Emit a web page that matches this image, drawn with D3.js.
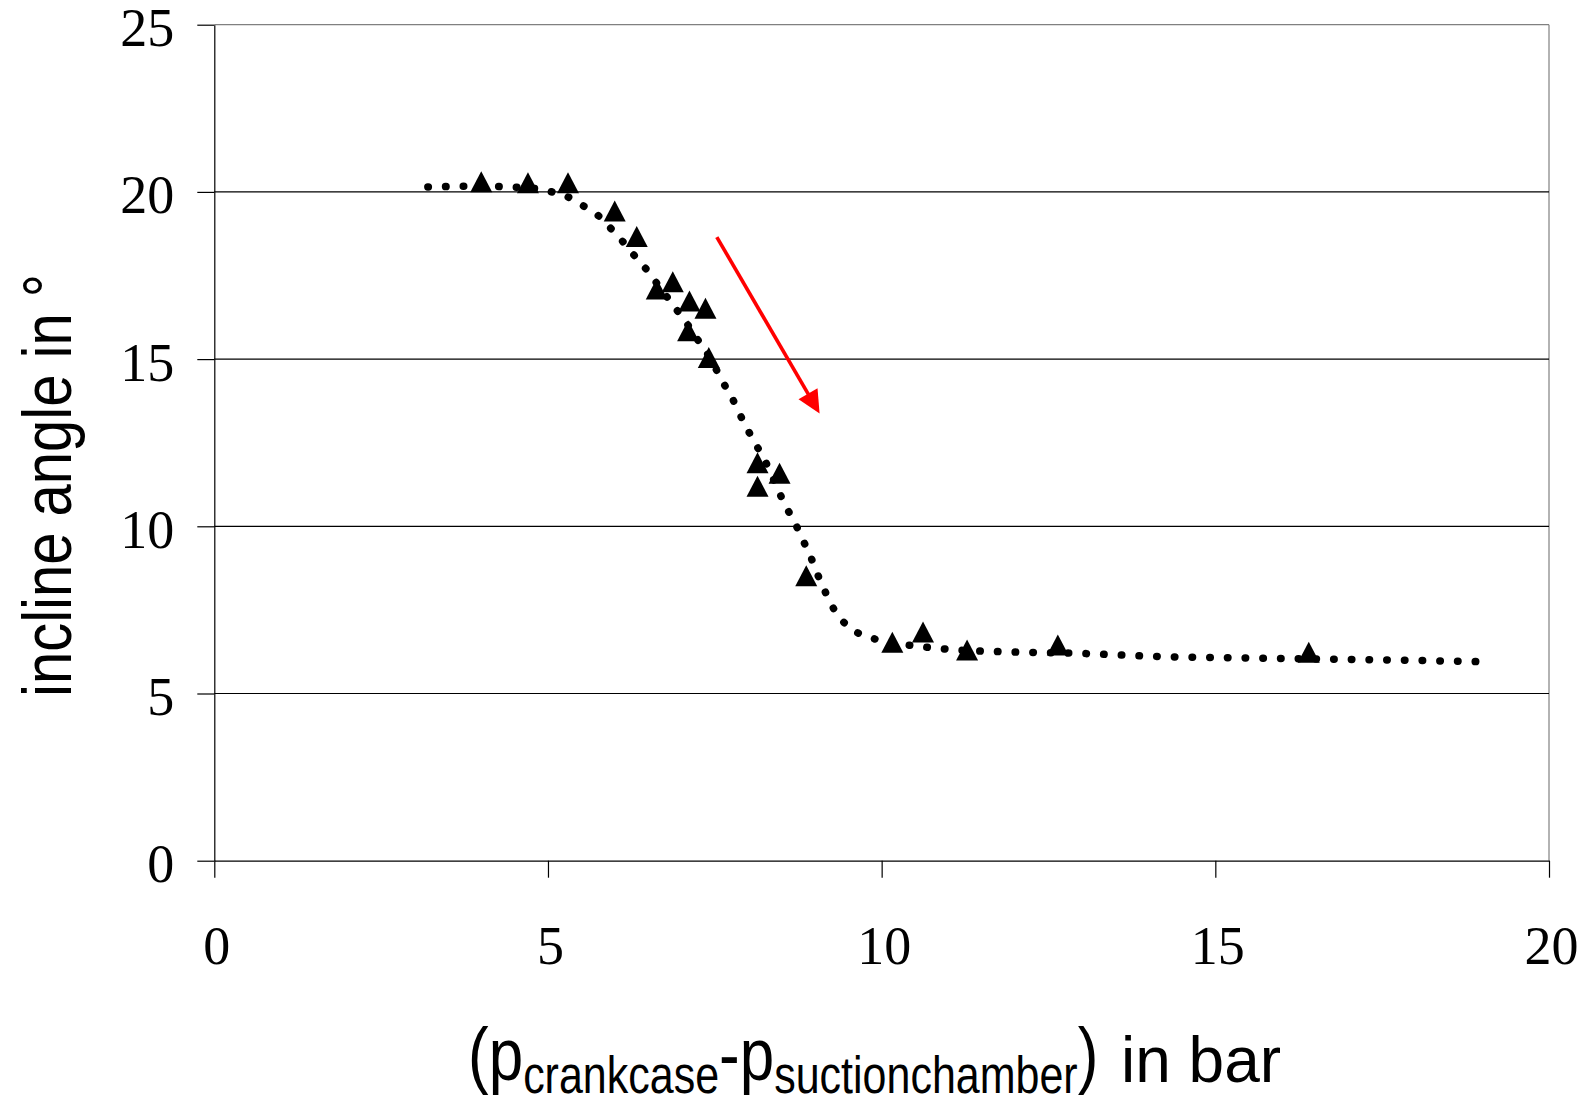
<!DOCTYPE html>
<html>
<head>
<meta charset="utf-8">
<script src="https://cdn.jsdelivr.net/npm/d3@7"></script>
<style>
  html, body { margin: 0; padding: 0; background: #fff; }
  svg { display: block; }
</style>
</head>
<body>
<script>
// ---- data ----
const xTicks = [0, 5, 10, 15, 20];
const yTicks = [0, 5, 10, 15, 20, 25];

// measured points (triangles)
const measX = [4.0, 4.7, 5.3, 6.0, 6.33, 6.63, 6.87, 7.12, 7.36, 7.1, 7.41, 8.14, 8.47, 8.14, 8.87, 10.16, 10.62, 11.28, 12.64, 16.4];
const measY = [20.3, 20.27, 20.27, 19.43, 18.67, 17.1, 17.31, 16.74, 16.52, 15.85, 15.05, 11.9, 11.59, 11.2, 8.52, 6.53, 6.84, 6.3, 6.45, 6.23];

// dotted trend curve
const trendX = [3.2, 3.5, 3.75, 4.0, 4.28, 4.53, 4.8, 5.06, 5.31, 5.53, 5.76, 5.94, 6.11, 6.28, 6.46, 6.63, 6.78, 6.93, 7.08, 7.23, 7.38, 7.51, 7.63, 7.76, 7.88, 8.0, 8.12, 8.26, 8.37, 8.47, 8.58, 8.71, 8.82, 8.93, 9.03, 9.13, 9.24, 9.38, 9.57, 9.82, 10.33, 10.85, 11.13, 11.63, 12.95, 14.28, 15.28, 16.6, 17.68, 19.0];
const trendY = [20.15, 20.16, 20.17, 20.17, 20.16, 20.14, 20.1, 20.0, 19.84, 19.58, 19.28, 18.91, 18.54, 18.13, 17.72, 17.27, 16.87, 16.47, 16.07, 15.62, 15.19, 14.73, 14.28, 13.83, 13.33, 12.86, 12.43, 11.93, 11.45, 10.99, 10.54, 10.06, 9.59, 9.12, 8.61, 8.15, 7.68, 7.25, 6.9, 6.68, 6.47, 6.35, 6.30, 6.26, 6.20, 6.10, 6.07, 6.03, 6.00, 5.95];

// red arrow (data coordinates)
const arrowFrom = [7.53, 18.65];
const arrowTo = [9.07, 13.37];

// ---- drawing ----
const W = 1582, H = 1102;
const svg = d3.select("body").append("svg").attr("width", W).attr("height", H);

const x = d3.scaleLinear().domain([0, 20]).range([214.3, 1549]);
const y = d3.scaleLinear().domain([0, 25]).range([860.7, 24.7]);

// frame (top & right, gray)
svg.append("line").attr("x1", x(0)).attr("x2", x(20)).attr("y1", y(25)).attr("y2", y(25))
  .attr("stroke", "#808080").attr("stroke-width", 1.2);
svg.append("line").attr("x1", x(20)).attr("x2", x(20)).attr("y1", y(25)).attr("y2", y(0))
  .attr("stroke", "#808080").attr("stroke-width", 1.2);

// gridlines
svg.append("g").selectAll("line").data(yTicks.filter(d => d > 0 && d < 25)).join("line")
  .attr("x1", x(0)).attr("x2", x(20)).attr("y1", d => y(d)).attr("y2", d => y(d))
  .attr("stroke", "#000").attr("stroke-width", 1.2);

// axes
const yAxis = svg.append("g").attr("transform", `translate(${x(0)},0)`)
  .call(d3.axisLeft(y).tickValues(yTicks).tickSize(17).tickSizeOuter(0).tickPadding(23));
yAxis.select(".domain").attr("stroke", "#000").attr("stroke-width", 1.2);
yAxis.selectAll(".tick line").attr("stroke", "#000").attr("stroke-width", 1.2);
yAxis.selectAll(".tick text")
  .attr("font-family", "'Liberation Serif', 'Times New Roman', serif")
  .attr("font-size", 54).attr("fill", "#000").attr("dy", "21px");

const xAxis = svg.append("g").attr("transform", `translate(0,${y(0)})`)
  .call(d3.axisBottom(x).tickValues(xTicks).tickSize(17).tickSizeOuter(0).tickPadding(0));
xAxis.select(".domain").attr("stroke", "#000").attr("stroke-width", 1.2);
xAxis.selectAll(".tick line").attr("stroke", "#000").attr("stroke-width", 1.2);
xAxis.selectAll(".tick text")
  .attr("font-family", "'Liberation Serif', 'Times New Roman', serif")
  .attr("font-size", 54).attr("fill", "#000")
  .attr("dy", null).attr("y", 103).attr("dx", "2px");

// dotted trend curve
const trend = trendX.map((d, i) => [d, trendY[i]]);
svg.append("path")
  .attr("d", d3.line().x(d => x(d[0])).y(d => y(d[1])).curve(d3.curveMonotoneX)(trend))
  .attr("fill", "none").attr("stroke", "#000").attr("stroke-width", 7.5)
  .attr("stroke-linecap", "round").attr("stroke-dasharray", "0.5 17.2");

// triangle markers
const meas = measX.map((d, i) => [d, measY[i]]);
const tri = "M0,-10.5 L11,10.5 L-11,10.5 Z";
svg.append("g").selectAll("path").data(meas).join("path")
  .attr("d", tri)
  .attr("transform", d => `translate(${x(d[0])},${y(d[1])})`)
  .attr("fill", "#000");

// red arrow
const ax0 = x(arrowFrom[0]), ay0 = y(arrowFrom[1]);
const ax1 = x(arrowTo[0]), ay1 = y(arrowTo[1]);
const len = Math.hypot(ax1 - ax0, ay1 - ay0);
const ux = (ax1 - ax0) / len, uy = (ay1 - ay0) / len;
const headL = 23, headW = 11;
const bx = ax1 - ux * headL, by = ay1 - uy * headL;
svg.append("line").attr("x1", ax0).attr("y1", ay0).attr("x2", bx + ux * 2).attr("y2", by + uy * 2)
  .attr("stroke", "#ff0000").attr("stroke-width", 3.6);
svg.append("path")
  .attr("d", `M${ax1},${ay1} L${bx - uy * headW},${by + ux * headW} L${bx + uy * headW},${by - ux * headW} Z`)
  .attr("fill", "#ff0000");

// y axis title
svg.append("text")
  .attr("transform", "translate(71,697) rotate(-90) scale(1,1.18)")
  .attr("font-family", "'Liberation Sans', Arial, sans-serif")
  .attr("font-size", 58).attr("fill", "#000")
  .attr("text-anchor", "start")
  .text("incline angle in °");

// x axis title
const tA = svg.append("text")
  .attr("transform", "translate(468,1080) scale(1,1.2)")
  .attr("font-family", "'Liberation Sans', Arial, sans-serif")
  .attr("fill", "#000");
tA.append("tspan").attr("font-size", 62).text("(p");
tA.append("tspan").attr("font-size", 43).attr("dy", 11).text("crankcase");
tA.append("tspan").attr("font-size", 62).attr("dy", -11).text("-p");
tA.append("tspan").attr("font-size", 43).attr("dy", 11).text("suctionchamber");
tA.append("tspan").attr("font-size", 62).attr("dy", -11).text(")");

svg.append("text")
  .attr("x", 1121).attr("y", 1082)
  .attr("font-family", "'Liberation Sans', Arial, sans-serif")
  .attr("font-size", 64).attr("fill", "#000")
  .text("in bar");
</script>
</body>
</html>
